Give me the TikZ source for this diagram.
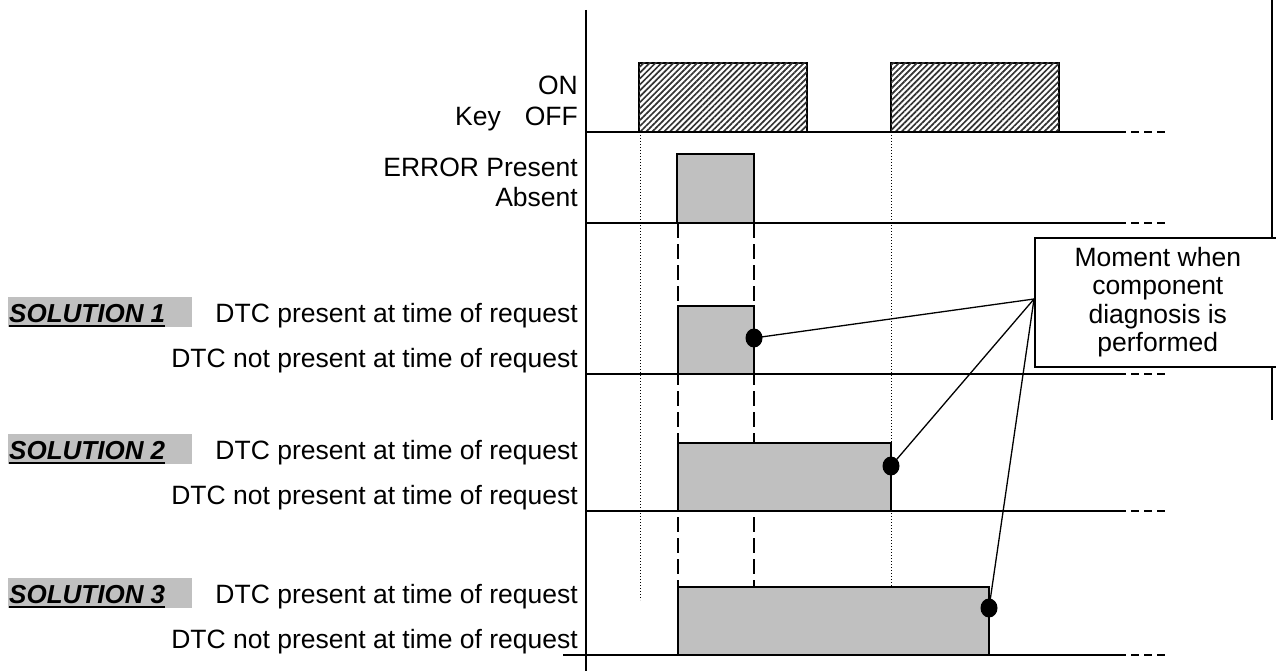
\documentclass[tikz,border=0pt]{standalone}
\usepackage{fontspec}
\setmainfont{Liberation Sans}
\usetikzlibrary{patterns.meta}
\definecolor{pulsegray}{HTML}{C0C0C0}
\begin{document}
\begin{tikzpicture}[x=1pt,y=-1pt,
  rowline/.style={line width=1.6pt},
  tailline/.style={line width=1.6pt, dash pattern=on 8pt off 5pt},
  pulse/.style={draw, line width=2pt, fill=pulsegray},
  keypulse/.style={draw, line width=2pt, fill=white, postaction={pattern={Lines[angle=45,distance=4.2pt,line width=1.7pt]}, pattern color=black!80}},
  dotline/.style={line width=0.9pt, dash pattern=on 1pt off 2pt},
  longdash/.style={line width=1.5pt, dash pattern=on 15pt off 6pt},
  lab/.style={font=\fontsize{26.5}{29}\selectfont, inner sep=0pt, anchor=base east},
  sollab/.style={font=\fontsize{26}{29}\selectfont\bfseries\itshape, inner sep=0pt, anchor=base west},
  callout/.style={line width=1.3pt},
]
\useasboundingbox (0,0) rectangle (1276,671);

% frame on the right
\draw[line width=1.6pt] (1272,0) -- (1272,420);

% axis
\draw[line width=1.6pt] (586,10) -- (586,671);

% guide lines
\draw[dotline] (640,132) -- (640,600);
\draw[dotline] (891,132) -- (891,587);
\draw[longdash] (678,223) -- (678,587);
\draw[longdash] (754,223) -- (754,587);

% Key row
\node[lab] (on) at (578,95) {ON};
\node[lab] (key) at (578,126) {Key\hspace{24pt}OFF};
\draw[keypulse] (639,63) rectangle (807,132);
\draw[keypulse] (891,63) rectangle (1059,132);
\draw[rowline] (586,132) -- (1118,132);
\draw[tailline] (1118,132) -- (1165,132);

% ERROR row
\node[lab] (errp) at (578,177) {ERROR Present};
\node[lab] (erra) at (578,207) {Absent};
\draw[pulse] (677,154) rectangle (754,223);
\draw[rowline] (586,223) -- (1118,223);
\draw[tailline] (1118,223) -- (1165,223);

% Solution rows
\foreach \n/\L/\T/\R/\D/\xs in {1/374/306/754/338/586, 2/511/443/891/466/586, 3/655/587/989/608/563}{
  \pgfmathsetmacro{\ba}{\L-52}
  \pgfmathsetmacro{\bb}{\L-7}
  \fill[pulsegray] (8,\ba-25) rectangle (192,\ba+5);
  \node[sollab] (sol\n) at (9,\ba) {SOLUTION \n};
  \draw[line width=2.8pt] ([yshift=-4pt]sol\n.base west) -- ([yshift=-4pt]sol\n.base east);
  \node[lab] (pres\n) at (578,\ba) {DTC present at time of request};
  \node[lab] (npres\n) at (578,\bb) {DTC not present at time of request};
  \draw[pulse] (678,\T) rectangle (\R,\L);
  \draw[rowline] (\xs,\L) -- (1118,\L);
  \draw[tailline] (1118,\L) -- (1165,\L);
  \coordinate (dp\n) at (\R,\D);
}

% callout box
\node[draw, line width=1.6pt, fill=white, anchor=north west, minimum width=246pt, minimum height=129pt,
      align=center, inner sep=0pt, font=\fontsize{26.5}{28.5}\selectfont] (mom) at (1034,237)
      {Moment when\\component\\diagnosis is\\performed};
\coordinate (cp) at (1034,299);

\foreach \n in {1,2,3}{
  \draw[callout] (cp) -- (dp\n);
  \fill (dp\n) ellipse [x radius=8.5pt, y radius=9.5pt];
}
\end{tikzpicture}
\end{document}
